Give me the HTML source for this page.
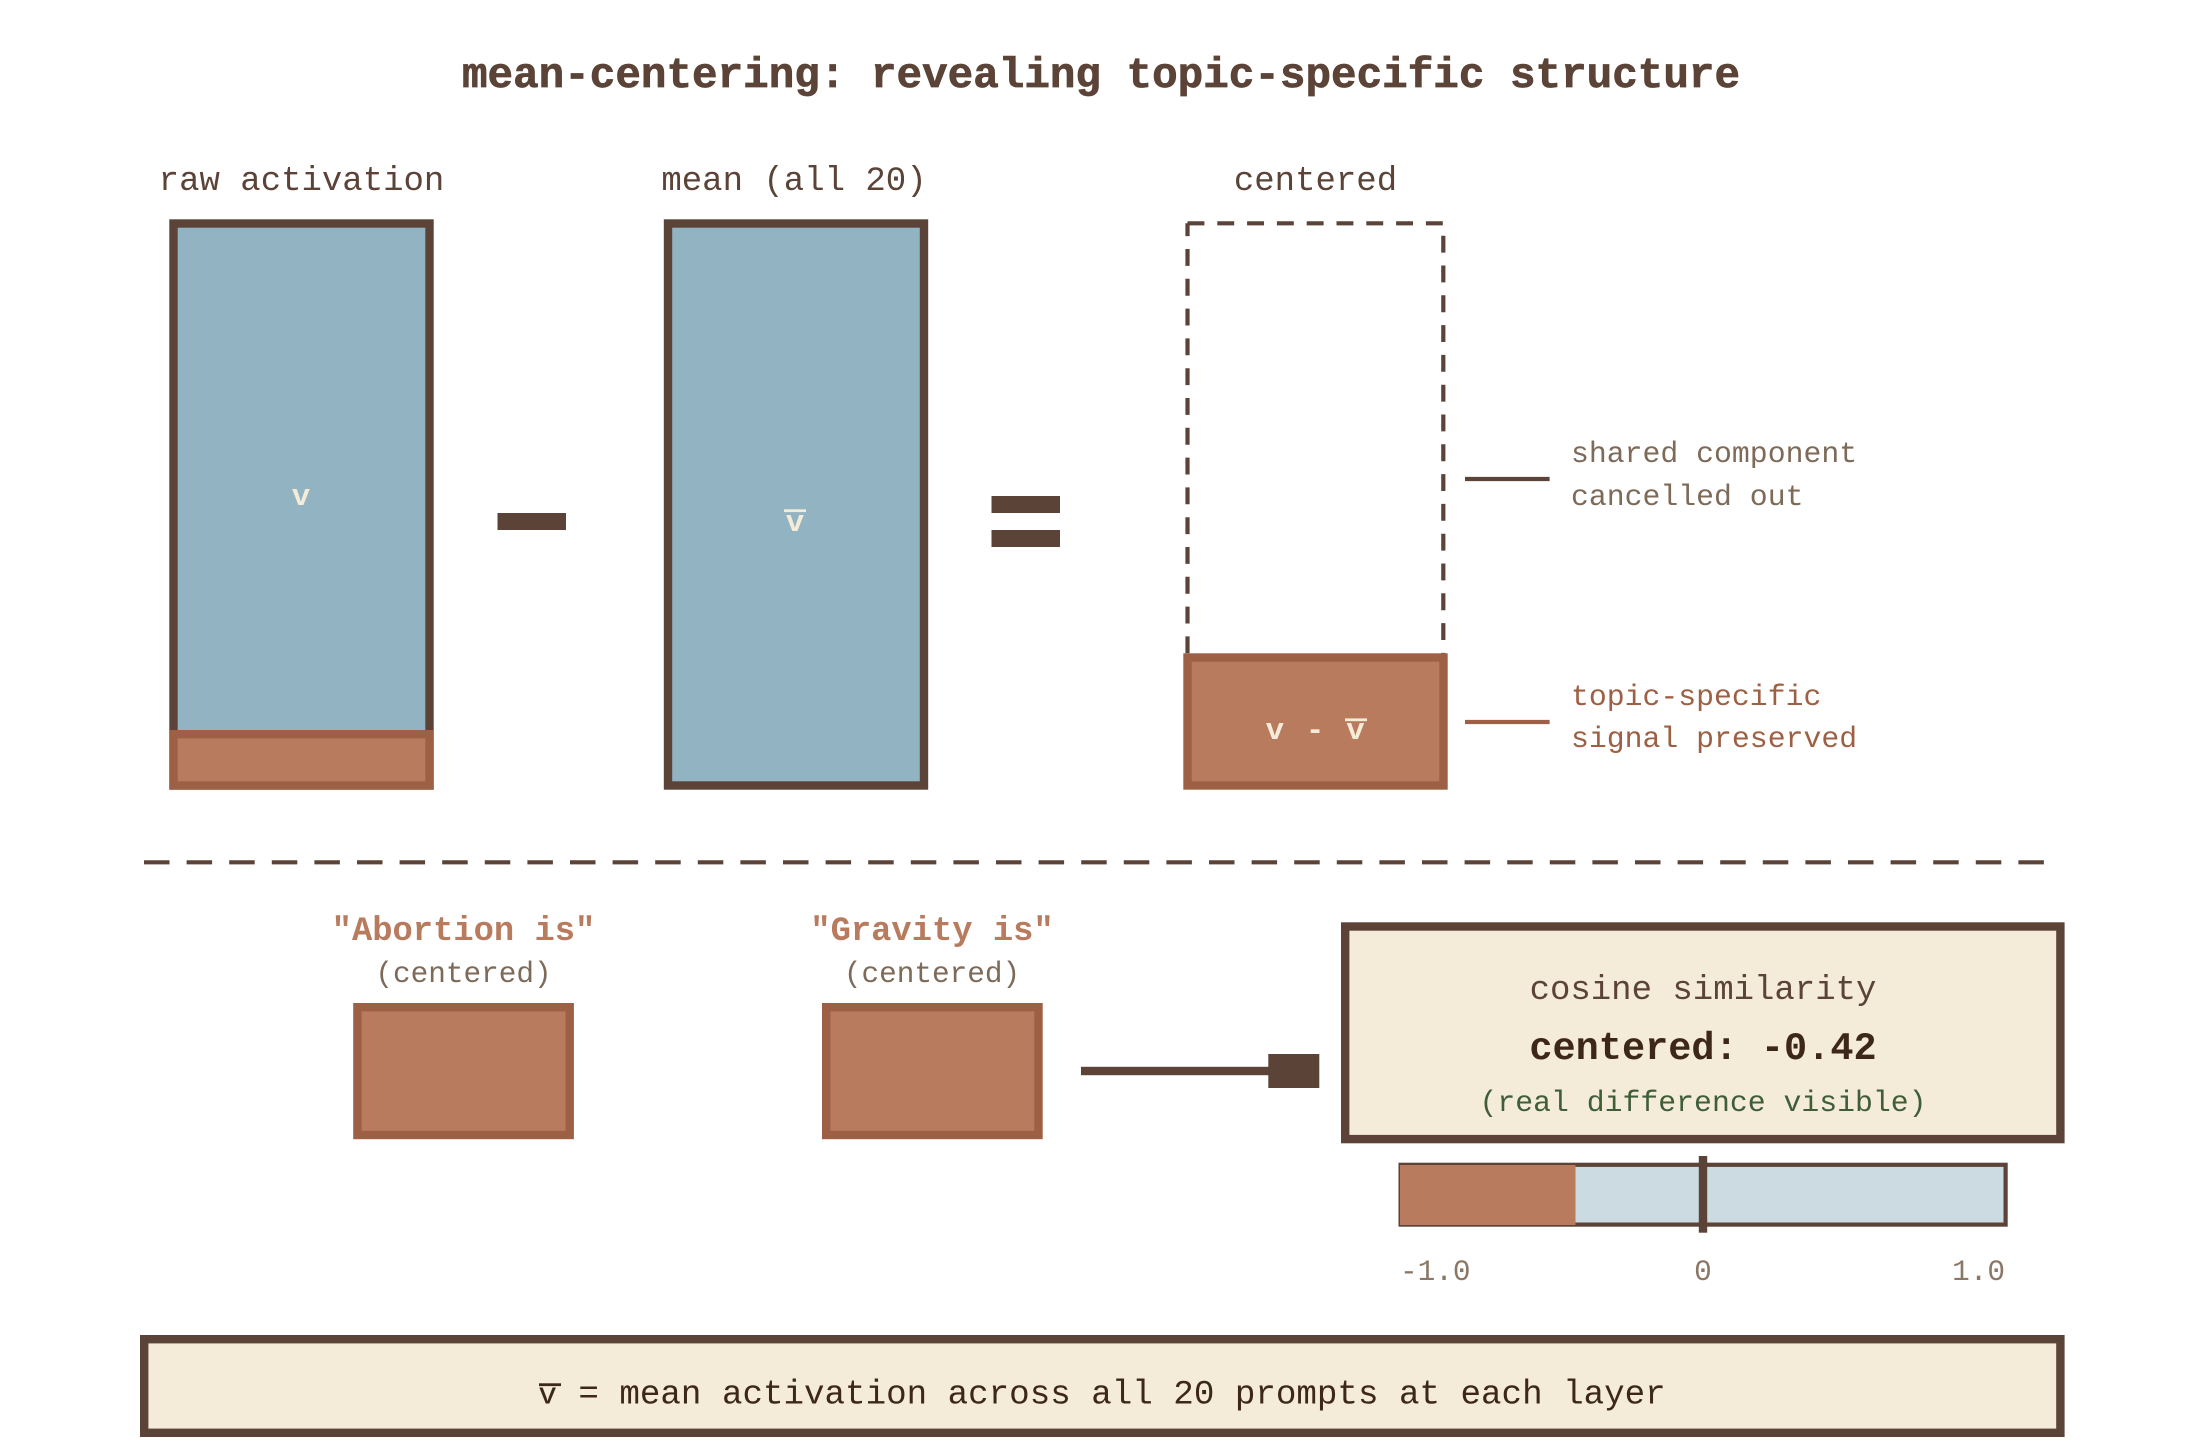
<!DOCTYPE html>
<html lang="en">
<head>
<meta charset="utf-8">
<title>mean-centering: revealing topic-specific structure</title>
<style>
html,body{margin:0;padding:0;background:#fff;width:2186px;height:1454px;overflow:hidden}
svg{display:block}
text{font-family:"Liberation Mono","DejaVu Sans Mono",monospace}
</style>
</head>
<body>
<svg xmlns="http://www.w3.org/2000/svg" width="2186" height="1454" viewBox="0 0 2186 1454">
<defs>
<clipPath id="c1"><rect x="770" y="514.6" width="50" height="30"/></clipPath>
<clipPath id="c2"><rect x="1240" y="723" width="150" height="30"/></clipPath>
<clipPath id="c3"><rect x="520" y="1387.5" width="1200" height="40"/><rect x="563" y="1370" width="1160" height="40"/></clipPath>
</defs>
<rect width="2186" height="1454" fill="#fff"/>

<text x="1101" y="87" font-size="42.6" font-weight="700" fill="#5B4337" stroke="#5B4337" stroke-width="0.7" text-anchor="middle">mean-centering: revealing topic-specific structure</text>

<text x="301.5" y="190" font-size="34" fill="#5B4337" text-anchor="middle">raw activation</text>
<text x="794" y="190" font-size="34" fill="#5B4337" text-anchor="middle">mean (all 20)</text>
<text x="1315.5" y="190" font-size="34" fill="#5B4337" text-anchor="middle">centered</text>

<rect x="173.5" y="223.5" width="256" height="562" fill="#91B3C2" stroke="#5B4337" stroke-width="8.4"/>
<rect x="173.5" y="734.2" width="256" height="51.3" fill="#B87B5E" stroke="#9E6044" stroke-width="8.4"/>
<text x="301" y="505" font-size="30.8" font-weight="700" fill="#F4ECD9" text-anchor="middle">v</text>

<rect x="497.5" y="513" width="68.5" height="17" fill="#5B4337"/>

<rect x="668" y="223.5" width="256" height="562" fill="#91B3C2" stroke="#5B4337" stroke-width="8.4"/>
<text x="795" y="531" font-size="30.8" font-weight="700" fill="#F4ECD9" text-anchor="middle" clip-path="url(#c1)">v̄</text>
<rect x="784" y="509.3" width="22" height="2.8" fill="#F4ECD9"/>

<rect x="991.5" y="496" width="68.5" height="17" fill="#5B4337"/>
<rect x="991.5" y="530" width="68.5" height="17" fill="#5B4337"/>

<path d="M1187.5 223.3H1443.3V660" fill="none" stroke="#5B4337" stroke-width="4.2" stroke-dasharray="16.9 12.9"/>
<path d="M1187.5 223.3V660" fill="none" stroke="#5B4337" stroke-width="4.2" stroke-dasharray="16.9 12.9" stroke-dashoffset="4.1"/>
<rect x="1187.5" y="657.5" width="256" height="128" fill="#B87B5E" stroke="#9E6044" stroke-width="8.4"/>
<text x="1316" y="739" font-size="30.8" font-weight="700" fill="#F4ECD9" text-anchor="middle" letter-spacing="1.68" clip-path="url(#c2)">v - v̄</text>
<rect x="1345" y="718.4" width="22" height="2.8" fill="#F4ECD9"/>

<line x1="1465" y1="479" x2="1549.6" y2="479" stroke="#5B4337" stroke-width="4.2"/>
<text x="1571" y="462" font-size="29.8" fill="#7D6A58">shared component</text>
<text x="1571" y="505" font-size="29.8" fill="#7D6A58">cancelled out</text>

<line x1="1465" y1="722" x2="1549.6" y2="722" stroke="#9E6044" stroke-width="4.2"/>
<text x="1571" y="705" font-size="29.8" fill="#9E6044">topic-specific</text>
<text x="1571" y="747" font-size="29.8" fill="#9E6044">signal preserved</text>

<line x1="144" y1="862.3" x2="2044" y2="862.3" stroke="#5B4337" stroke-width="4.2" stroke-dasharray="25.5 17.1"/>

<text x="463.5" y="940" font-size="33.8" font-weight="700" fill="#B87B5E" text-anchor="middle">"Abortion is"</text>
<text x="463.5" y="982" font-size="29.4" fill="#7D6A58" text-anchor="middle">(centered)</text>
<rect x="357.4" y="1007.2" width="212.3" height="127.8" fill="#B87B5E" stroke="#9E6044" stroke-width="8.4"/>

<text x="932" y="940" font-size="33.8" font-weight="700" fill="#B87B5E" text-anchor="middle">"Gravity is"</text>
<text x="932" y="982" font-size="29.4" fill="#7D6A58" text-anchor="middle">(centered)</text>
<rect x="826.2" y="1007.2" width="212.3" height="127.8" fill="#B87B5E" stroke="#9E6044" stroke-width="8.4"/>

<rect x="1081" y="1066.8" width="190" height="8.4" fill="#5B4337"/>
<rect x="1268.3" y="1054" width="51" height="34" fill="#5B4337"/>

<rect x="1345.2" y="926.5" width="715.2" height="212.6" fill="#F4ECD9" stroke="#5B4337" stroke-width="8.4"/>
<text x="1703" y="999" font-size="34" fill="#5B4337" text-anchor="middle">cosine similarity</text>
<text x="1703" y="1059" font-size="38.6" font-weight="700" fill="#3D2817" text-anchor="middle">centered: -0.42</text>
<text x="1703" y="1111" font-size="29.8" fill="#3F5E38" text-anchor="middle">(real difference visible)</text>

<rect x="1400.6" y="1164.8" width="605" height="59.8" fill="#CCDAE2" stroke="#5B4337" stroke-width="4.2"/>
<rect x="1400" y="1165" width="175.5" height="60" fill="#B87B5E"/>
<rect x="1698.8" y="1156" width="8.4" height="76.7" fill="#5B4337"/>
<text x="1400" y="1280" font-size="29.4" fill="#8B7765">-1.0</text>
<text x="1703" y="1280" font-size="29.4" fill="#8B7765" text-anchor="middle">0</text>
<text x="2005" y="1280" font-size="29.4" fill="#8B7765" text-anchor="end">1.0</text>

<rect x="144.2" y="1339.2" width="1916.2" height="93.6" fill="#F4ECD9" stroke="#5B4337" stroke-width="8.4"/>
<text x="1101.5" y="1403.5" font-size="34.2" fill="#3D2817" text-anchor="middle" clip-path="url(#c3)">v̄ = mean activation across all 20 prompts at each layer</text>
<rect x="539" y="1383.3" width="22" height="2.8" fill="#3D2817"/>
</svg>
</body>
</html>
